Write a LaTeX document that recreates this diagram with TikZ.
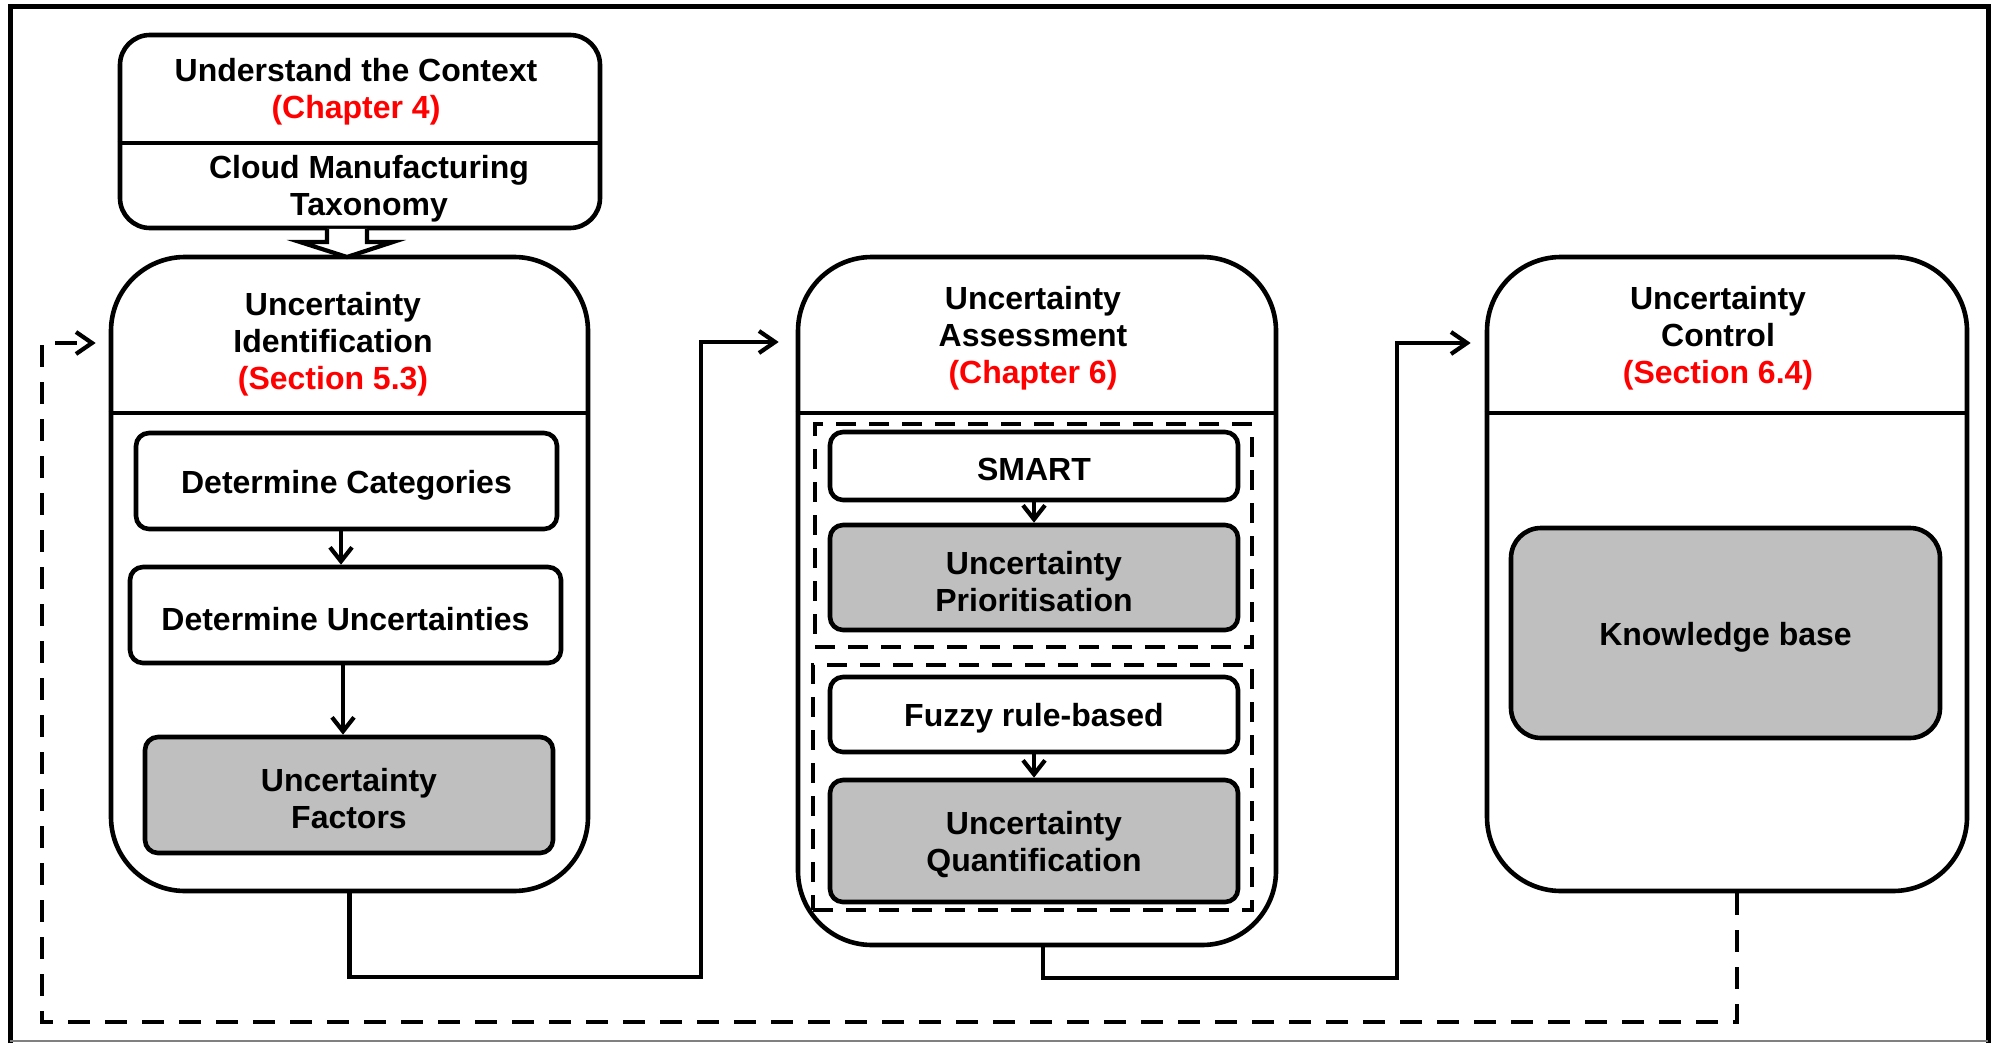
\documentclass[tikz,border=0pt]{standalone}
\usepackage{fontspec}
\setmainfont{Liberation Sans}
\usetikzlibrary{arrows.meta}
\definecolor{boxgray}{RGB}{191,191,191}
\definecolor{chapred}{RGB}{255,0,0}
\tikzset{
  txt/.style={font=\fontsize{16}{18.5}\selectfont\bfseries, align=center, inner sep=0pt},
  cont/.style={draw, line width=2.3pt, inner sep=0pt, rectangle},
  ibox/.style={draw, line width=2.3pt, rounded corners=6.5pt, inner sep=0pt, fill=white},
  gbox/.style={ibox, fill=boxgray},
  dbox/.style={draw, line width=2pt, dash pattern=on 10pt off 6.5pt, inner sep=0pt},
  conn/.style={line width=2.1pt, -{Straight Barb[length=8pt,width=11pt,line width=2.1pt]}},
  iarr/.style={line width=2.1pt, -{Straight Barb[length=7pt,width=11pt,line width=2.1pt]}},
  dconn/.style={conn, dash pattern=on 11pt off 7.5pt},
}
\begin{document}
\begin{tikzpicture}[x=0.5pt,y=-0.5pt]
\useasboundingbox (0,0) rectangle (1995,1043);
% outer frame
\draw[line width=2.5pt] (10,1043) -- (10,7) -- (1988,7) -- (1988,1043);
\draw[gray, line width=0.6pt] (10,1041) -- (1988,1041);

% top context box
\node[cont, rounded corners=15pt, minimum width=240pt, minimum height=96.5pt] (ctx) at (360,131.5) {};
\coordinate (y143) at (0,143);
\draw[line width=2.3pt] (ctx.west |- y143) -- (ctx.east |- y143);
\node[txt] (ctxt) at (356,92) {Understand the Context\\{\color{chapred}(Chapter 4)}};
\node[txt] (ctxs) at (369,189) {Cloud Manufacturing\\Taxonomy};

% main containers
\node[cont, rounded corners=37pt, minimum width=238.5pt, minimum height=317pt] (ident) at (349.5,574) {};
\node[cont, rounded corners=37pt, minimum width=239pt, minimum height=344pt] (assess) at (1037,601) {};
\node[cont, rounded corners=37pt, minimum width=240pt, minimum height=317pt] (ctrl) at (1727,574) {};
\coordinate (y413) at (0,413);
\draw[line width=2.3pt] (ident.west |- y413) -- (ident.east |- y413);
\draw[line width=2.3pt] (assess.west |- y413) -- (assess.east |- y413);
\draw[line width=2.3pt] (ctrl.west |- y413) -- (ctrl.east |- y413);

\node[txt] (identt) at (333,344.5) {Uncertainty\\Identification\\{\color{chapred}(Section 5.3)}};
\node[txt] (assesst) at (1033,338.5) {Uncertainty\\Assessment\\{\color{chapred}(Chapter 6)}};
\node[txt] (ctrlt) at (1718,338.5) {Uncertainty\\Control\\{\color{chapred}(Section 6.4)}};

% fat arrow from context to identification
\draw[line width=2.1pt, fill=white, line join=miter]
  (327,229) -- (327,242) -- (300,242) -- (347,257) -- (393,242) -- (367,242) -- (367,229);

% identification inner boxes
\node[ibox, minimum width=210.5pt, minimum height=48pt] (cat) at (346.5,481) {};
\node[ibox, minimum width=215.5pt, minimum height=48pt] (unc) at (345.5,615) {};
\node[gbox, minimum width=204pt, minimum height=58pt] (fac) at (349,795) {};
\node[txt] (catt) at ([yshift=-2pt]cat.center) {Determine Categories};
\node[txt] (unct) at ([yshift=-2pt]unc.center) {Determine Uncertainties};
\node[txt] (fact) at ([yshift=-2pt]fac.center) {Uncertainty\\Factors};
\draw[iarr] (cat.south -| 341,0) -- (unc.north -| 341,0);
\draw[iarr] (unc.south -| 343,0) -- (fac.north -| 343,0);

% assessment inner boxes
\node[dbox, minimum width=218.5pt, minimum height=111.5pt] (d1) at (1033.5,535.5) {};
\node[dbox, minimum width=219.5pt, minimum height=122.5pt] (d2) at (1032.5,787.5) {};
\node[ibox, minimum width=204pt, minimum height=34pt] (smart) at (1034,466) {};
\node[gbox, minimum width=204pt, minimum height=52.5pt] (prio) at (1034,577.5) {};
\node[ibox, minimum width=204pt, minimum height=37.5pt] (fuzzy) at (1034,714.5) {};
\node[gbox, minimum width=204pt, minimum height=61pt] (quant) at (1034,841) {};
\node[txt] (smartt) at ([yshift=-1.5pt]smart.center) {SMART};
\node[txt] (priot) at ([yshift=-2pt]prio.center) {Uncertainty\\Prioritisation};
\node[txt] (fuzzyt) at ([yshift=-2pt]fuzzy.center) {Fuzzy rule-based};
\node[txt] (quantt) at ([yshift=-2pt]quant.center) {Uncertainty\\Quantification};
\draw[iarr] (smart.south) -- (prio.north);
\draw[iarr] (fuzzy.south) -- (quant.north);

% control inner box
\node[gbox, rounded corners=15pt, minimum width=214.5pt, minimum height=105pt] (kb) at (1725.5,633) {};
\node[txt] (kbt) at ([yshift=-2pt]kb.center) {Knowledge base};

% connectors
\coordinate (j1) at (701,977);
\coordinate (y342) at (0,342);
\draw[conn, shorten >=8.5pt] (ident.south) |- (j1) |- (assess.west |- y342);
\coordinate (j2) at (1397,978);
\coordinate (y343) at (0,343);
\draw[conn, shorten >=7pt] ([xshift=3pt]assess.south) |- (j2) |- (ctrl.west |- y343);
\coordinate (j3) at (42,1022);
\draw[dconn, shorten >=6.5pt] ([xshift=5pt]ctrl.south) |- (j3) |- (ident.west |- y343);
\end{tikzpicture}
\end{document}
